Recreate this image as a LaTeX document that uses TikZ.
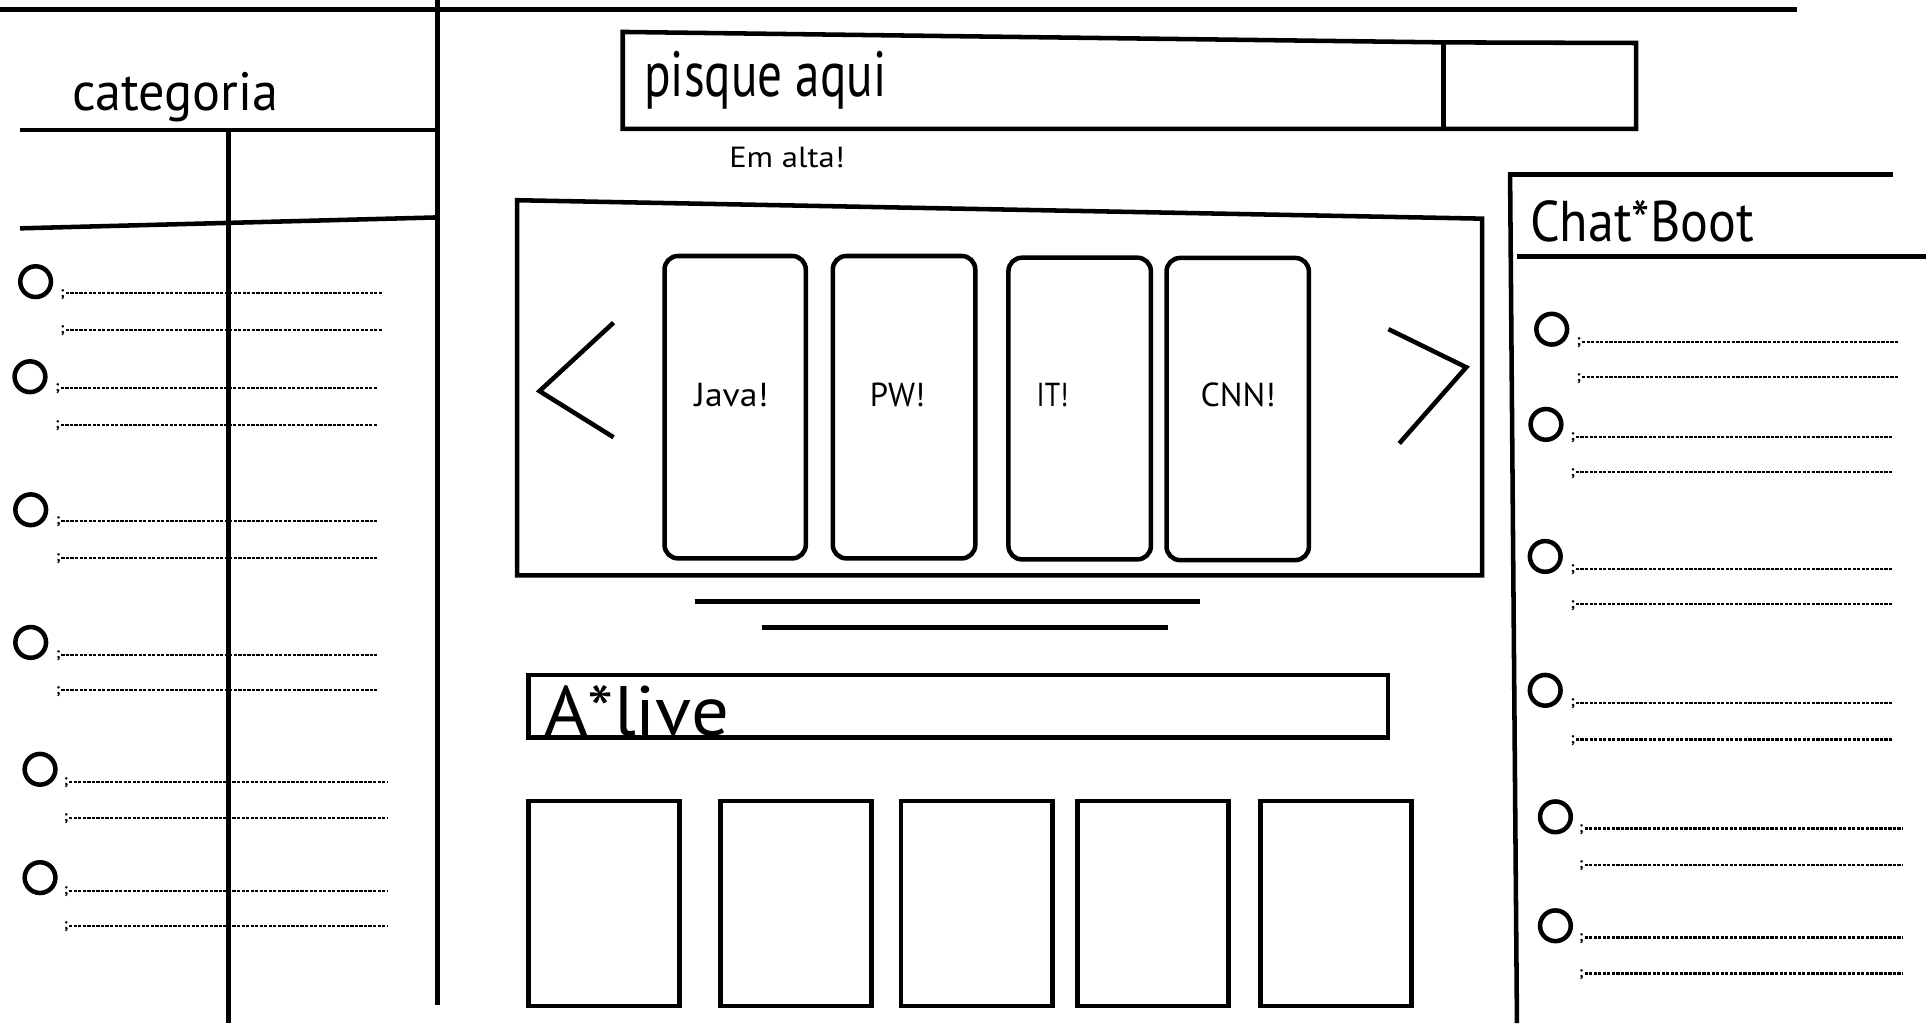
\documentclass[tikz,border=0pt]{standalone}
\usepackage{fontspec}
\setmainfont{PT Sans}
\usepackage{graphicx}
\newcommand\fitt[3]{\resizebox{#1}{\height}{\fontsize{#2}{#2}\selectfont #3}}
\begin{document}
\begin{tikzpicture}[x=0.01cm,y=-0.01cm,
  ln/.style={line width=1.05pt},
  dl/.style={line width=0.5pt,dash pattern=on 0.75pt off 0.3pt},
  semi/.style={inner sep=0pt,anchor=base east,font=\fontsize{3.6pt}{3.6pt}\selectfont\bfseries},
  lbl/.style={inner sep=0pt,anchor=base west},
  ctr/.style={inner sep=0pt,anchor=base},
  dot/.style={ln,draw,circle,minimum size=2.5mm,inner sep=0pt},
  card/.style={ln,rounded corners=1.1mm}]
\useasboundingbox (0,0) rectangle (1568,833);
% frame lines
\draw[ln] (0,7.6) -- (1463,7.6);
\draw[ln] (356,0) -- (356,818);
\draw[ln] (16.3,105.9) -- (356,105.9);
\draw[ln] (186,105.9) -- (186,833);
\draw[ln] (16.3,185.9) -- (356,177);
% search box
\draw[ln] (507,26) -- (1175,34.5) -- (1332,35) -- (1332,105) -- (507,105) -- cycle;
\draw[ln] (1175,34.5) -- (1175,105);
% carousel
\draw[ln] (421,163) -- (1206.6,178) -- (1206.6,468.5) -- (421,468.5) -- cycle;
\draw[card] (541,208.4) rectangle (656,454.6);
\draw[card] (678,208.4) rectangle (794,454.6);
\draw[card] (821,209.8) rectangle (937,455.4);
\draw[card] (949.7,210) rectangle (1065.6,456);
\draw[ln] (499.5,262.7) -- (439.2,318.4) -- (499.5,356);
\draw[ln] (1130.4,268) -- (1193.7,299) -- (1139.2,361);
\draw[ln] (565.5,489.8) -- (976.6,489.8);
\draw[ln] (620,510.7) -- (950.7,510.7);
% live
\draw[ln] (430.4,549.7) rectangle (1130,600.4);
\draw[ln] (430.4,652) rectangle (553,819);
\draw[ln] (586.7,652) rectangle (709.5,819);
\draw[ln] (733.4,652) rectangle (857,819);
\draw[ln] (877.3,652) rectangle (1000,819);
\draw[ln] (1026,652) rectangle (1149,819);
% right panel
\draw[ln] (1228,142) -- (1541,142);
\draw[ln] (1229.4,142) -- (1235,833);
\draw[ln] (1235,209) -- (1568,209);
% texts
\node[lbl] (cat) at (58,89.6) {\fitt{1.68cm}{12.5pt}{categoria}};
\node[lbl] (pq) at (523.8,78.7) {\fitt{1.97cm}{14.8pt}{pisque aqui}};
\node[lbl] (em) at (593,136.3) {\fitt{0.94cm}{6.75pt}{Em alta!}};
\node[lbl] (chat) at (1245,196.8) {\fitt{1.82cm}{13.3pt}{Chat*Boot}};
\node[lbl] (alive) at (442.8,599) {\fitt{1.50cm}{16.2pt}{A*live}};
\node[ctr] (java) at (595.6,331.2) {\fitt{0.60cm}{7.7pt}{Java!}};
\node[ctr] (pw) at (730.6,331.2) {\fitt{0.45cm}{7.7pt}{PW!}};
\node[ctr] (it) at (857,331.2) {\fitt{0.26cm}{7.7pt}{IT!}};
\node[ctr] (cnn) at (1008,331.2) {\fitt{0.61cm}{7.7pt}{CNN!}};
% list rows
\foreach \n/\cx/\cy/\xa/\xb/\ya/\yb in {
  L1/29/229.3/51.6/310.8/238.8/268.7,
  L2/24.4/306.7/47.5/306.7/315.7/346,
  L3/25/415/48/307/424/454,
  L4/25/523/48/307/533/562,
  L5/32.6/626.3/54.3/314.9/636.4/665.8,
  L6/32.6/714.5/54.3/314.9/725.2/754,
  R1/1263.3/268/1286/1545/278.2/307.2,
  R2/1258.6/345.5/1281/1540/355.5/384.6,
  R3/1258/453/1281/1540/463/492,
  R4/1258/562/1281/1540/572/602,
  R5/1266.3/665/1288/1548.5/674.5/704.3,
  R6/1266.3/753.7/1288/1548.5/763.3/792.6}{
  \node[dot] (c\n) at (\cx,\cy) {};
  \node[semi] (s\n-a) at (\xa+2,\ya+3) {;};
  \node[semi] (s\n-b) at (\xa+2,\yb+3) {;};
  \coordinate (e\n-a) at (\xb,\ya);
  \coordinate (e\n-b) at (\xb,\yb);
  \draw[dl] (s\n-a.base east |- e\n-a) -- (e\n-a);
  \draw[dl] (s\n-b.base east |- e\n-b) -- (e\n-b);
}
\end{tikzpicture}
\end{document}
